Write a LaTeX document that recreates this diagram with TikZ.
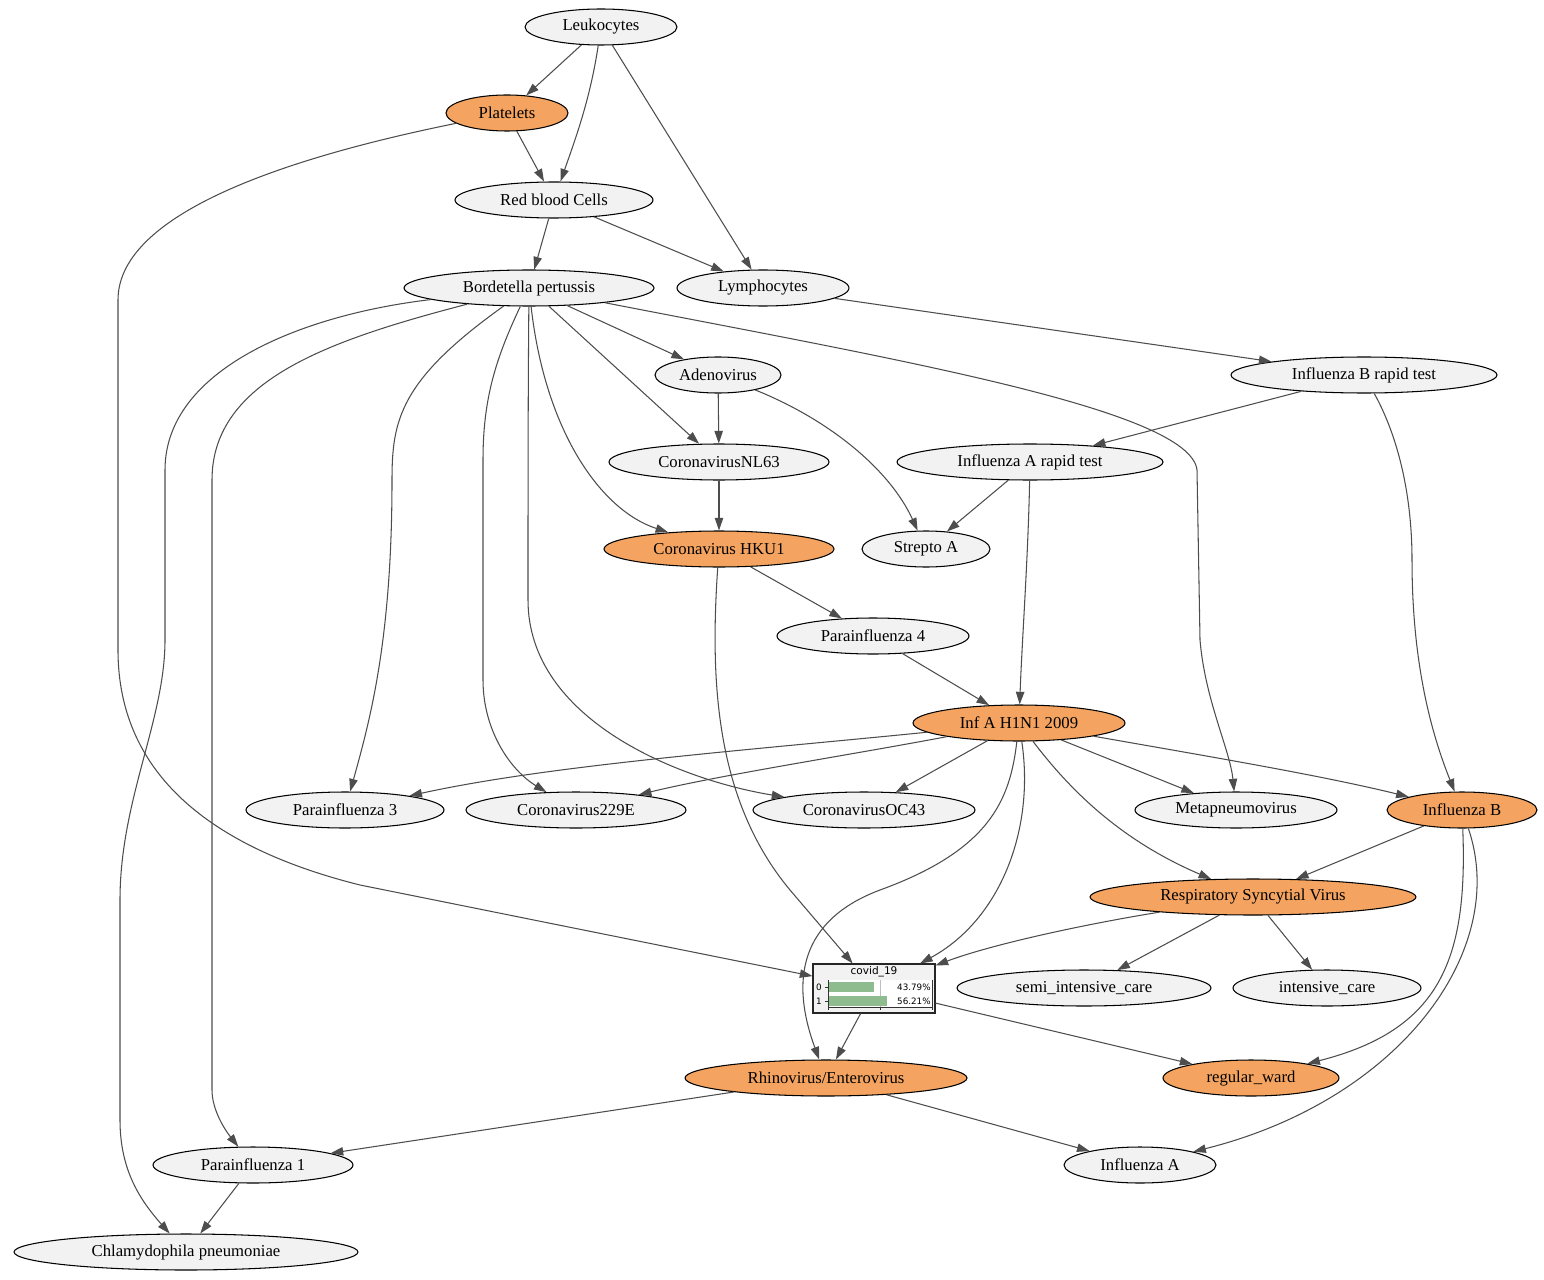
\documentclass[tikz,border=0pt]{standalone}
\usepackage{fontspec}
\setmainfont{Liberation Serif}
\newfontfamily\barfont{DejaVu Sans}
\usepackage{tikz}
\usetikzlibrary{shapes.geometric, positioning, arrows.meta}
\definecolor{nodegray}{RGB}{242,242,242}
\definecolor{orange1}{RGB}{244,164,96}
\definecolor{edgegray}{RGB}{77,77,77}
\definecolor{bargreen}{RGB}{143,188,143}

\begin{document}
\begin{tikzpicture}[x=0.02cm, y=-0.02cm,
    every node/.style={font=\fontsize{9.5}{11}\selectfont},
    ell/.style={ellipse, draw=black, line width=0.6pt, fill=nodegray, inner sep=0pt, minimum width=#1, minimum height=0.72cm},
    ellor/.style={ell=#1, fill=orange1},
    edge/.style={draw=edgegray, line width=0.6pt, -{Triangle[length=7.2pt,width=4.8pt]}},
    probbox/.style={draw=black!85, line width=0.6pt, fill=nodegray, inner sep=0pt, minimum width=2.44cm, minimum height=0.98cm}
]
    \useasboundingbox (0,0) rectangle (1544,1280);

    % nodes
    \node[ell=3.04cm]   (leuko)  at (601,27)   {Leukocytes};
    \node[ellor=2.44cm] (plat)   at (507,113)  {Platelets};
    \node[ell=3.96cm]   (rbc)    at (554,200)  {Red blood Cells};
    \node[ell=5.0cm]    (borde)  at (529,288)  {Bordetella pertussis};
    \node[ell=3.44cm]   (lympho) at (763,288)  {Lymphocytes};
    \node[ell=2.52cm]   (adeno)  at (718,375)  {Adenovirus};
    \node[ell=5.32cm]   (infbrt) at (1364,375) {Influenza B rapid test};
    \node[ell=4.4cm]    (nl63)   at (719,462)  {CoronavirusNL63};
    \node[ell=5.32cm]   (infart) at (1030,462) {Influenza A rapid test};
    \node[ellor=4.6cm]  (hku1)   at (719,549)  {Coronavirus HKU1};
    \node[ell=2.56cm]   (strep)  at (926,549)  {Strepto A};
    \node[ell=3.84cm]   (para4)  at (873,636)  {Parainfluenza 4};
    \node[ellor=4.24cm] (h1n1)   at (1019,723) {Inf A H1N1 2009};
    \node[ell=3.96cm]   (para3)  at (345,810)  {Parainfluenza 3};
    \node[ell=4.4cm]    (c229e)  at (576,810)  {Coronavirus229E};
    \node[ell=4.44cm]   (oc43)   at (864,810)  {CoronavirusOC43};
    \node[ell=4.04cm]   (metap)  at (1236,810) {Metapneumovirus};
    \node[ellor=3.0cm]  (infb)   at (1462,810) {Influenza B};
    \node[ellor=6.52cm] (rsv)    at (1253,897) {Respiratory Syncytial Virus};
    \node[ell=5.08cm]   (semi)   at (1084,988) {semi\_intensive\_care};
    \node[ell=3.76cm]   (icu)    at (1327,988) {intensive\_care};
    \node[ellor=5.64cm] (rhino)  at (826,1078) {Rhinovirus/Enterovirus};
    \node[ellor=3.52cm] (ward)   at (1251,1078) {regular\_ward};
    \node[ell=4.0cm]    (para1)  at (253,1165) {Parainfluenza 1};
    \node[ell=3.04cm]   (infa)   at (1140,1165) {Influenza A};
    \node[ell=6.88cm]   (chla)   at (186,1252) {Chlamydophila pneumoniae};

    % covid_19 with its bars
    \node[probbox] (covid) at (874,988.5) {};
    \node[font=\barfont\fontsize{6}{7}\selectfont] (covidtitle) at (874,972) {covid\_19};
    \fill[white] (828,980) rectangle (932,1007);
    \draw[black!25, line width=0.4pt] (880,980) -- (880,1007);
    \fill[bargreen] (829,982) rectangle (874,992);
    \fill[bargreen] (829,996) rectangle (887,1006);
    \draw[black!80, line width=0.4pt] (828,980) -- (828,1007) -- (932,1007) -- (932,980);
    \foreach \t in {828,880,932}
        \draw[black!80, line width=0.4pt] (\t,1007) -- (\t,1010);
    \foreach \r/\lab/\pc in {987/0/43.79\%, 1001/1/56.21\%}
    {
        \draw[black!80, line width=0.4pt] (825,\r) -- (828,\r);
        \node[font=\barfont\fontsize{5}{6}\selectfont, inner sep=0pt] (lab\lab) at (819,\r) {\lab};
        \node[font=\barfont\fontsize{5}{6}\selectfont, inner sep=0pt, anchor=east] (pc\lab) at (931,\r) {\pc};
    };

    % straight edges
    \foreach \a/\b in {leuko/plat, leuko/lympho, plat/rbc, rbc/borde, rbc/lympho,
        borde/adeno, borde/nl63, lympho/infbrt, adeno/nl63, infbrt/infart,
        infart/strep, nl63/hku1, hku1/para4, para4/h1n1, h1n1/oc43, h1n1/metap,
        infb/rsv, rsv/semi, rsv/icu, covid/rhino, covid/ward, rhino/para1,
        rhino/infa, para1/chla}
        \draw[edge] (\a) -- (\b);

    % curved edges
    \draw[edge] (leuko) .. controls (590,100) and (575,140) .. (rbc);
    \draw[edge] (plat) .. controls (300,155) and (118,210) .. (118,300) -- (118,650)
        .. controls (118,780) and (220,850) .. (360,885) -- (covid);
    \draw[edge] (borde) .. controls (545,430) and (600,510) .. (hku1);
    \draw[edge] (borde) .. controls (400,380) and (392,420) .. (392,480)
        .. controls (392,640) and (370,720) .. (para3);
    \draw[edge] (borde) .. controls (495,360) and (483,400) .. (483,460) -- (483,680)
        .. controls (483,730) and (510,770) .. (c229e);
    \draw[edge] (borde) .. controls (528,400) and (528,500) .. (528,600)
        .. controls (528,720) and (680,780) .. (oc43);
    \draw[edge] (borde) .. controls (900,360) and (1190,410) .. (1197,470) -- (1200,640)
        .. controls (1205,700) and (1230,750) .. (metap);
    \draw[edge] (borde) .. controls (330,340) and (212,380) .. (212,480) -- (212,1090)
        .. controls (212,1110) and (225,1130) .. (para1);
    \draw[edge] (borde) .. controls (300,315) and (165,370) .. (165,470) -- (165,640)
        .. controls (165,720) and (120,800) .. (120,900) -- (120,1120)
        .. controls (120,1170) and (140,1200) .. (chla);
    \draw[edge] (adeno) .. controls (830,420) and (890,470) .. (strep);
    \draw[edge] (infbrt) .. controls (1400,440) and (1412,500) .. (1412,560)
        .. controls (1412,660) and (1430,730) .. (infb);
    \draw[edge] (infart) .. controls (1028,560) and (1022,640) .. (h1n1);
    \draw[edge] (hku1) .. controls (710,680) and (715,800) .. (790,890) -- (covid);
    \draw[edge] (h1n1) .. controls (750,750) and (550,765) .. (para3);
    \draw[edge] (h1n1) .. controls (850,755) and (720,775) .. (c229e);
    \draw[edge] (h1n1) .. controls (1200,755) and (1320,775) .. (infb);
    \draw[edge] (h1n1) .. controls (1070,790) and (1120,840) .. (rsv);
    \draw[edge] (h1n1) .. controls (1035,830) and (1000,920) .. (covid);
    \draw[edge] (h1n1) .. controls (1010,800) and (990,850) .. (880,890)
        .. controls (800,920) and (790,980) .. (rhino);
    \draw[edge] (rsv) .. controls (1080,925) and (990,945) .. (covid);
    \draw[edge] (infb) .. controls (1468,960) and (1440,1030) .. (ward);
    \draw[edge] (infb) .. controls (1510,950) and (1400,1100) .. (infa);

\end{tikzpicture}
\end{document}
